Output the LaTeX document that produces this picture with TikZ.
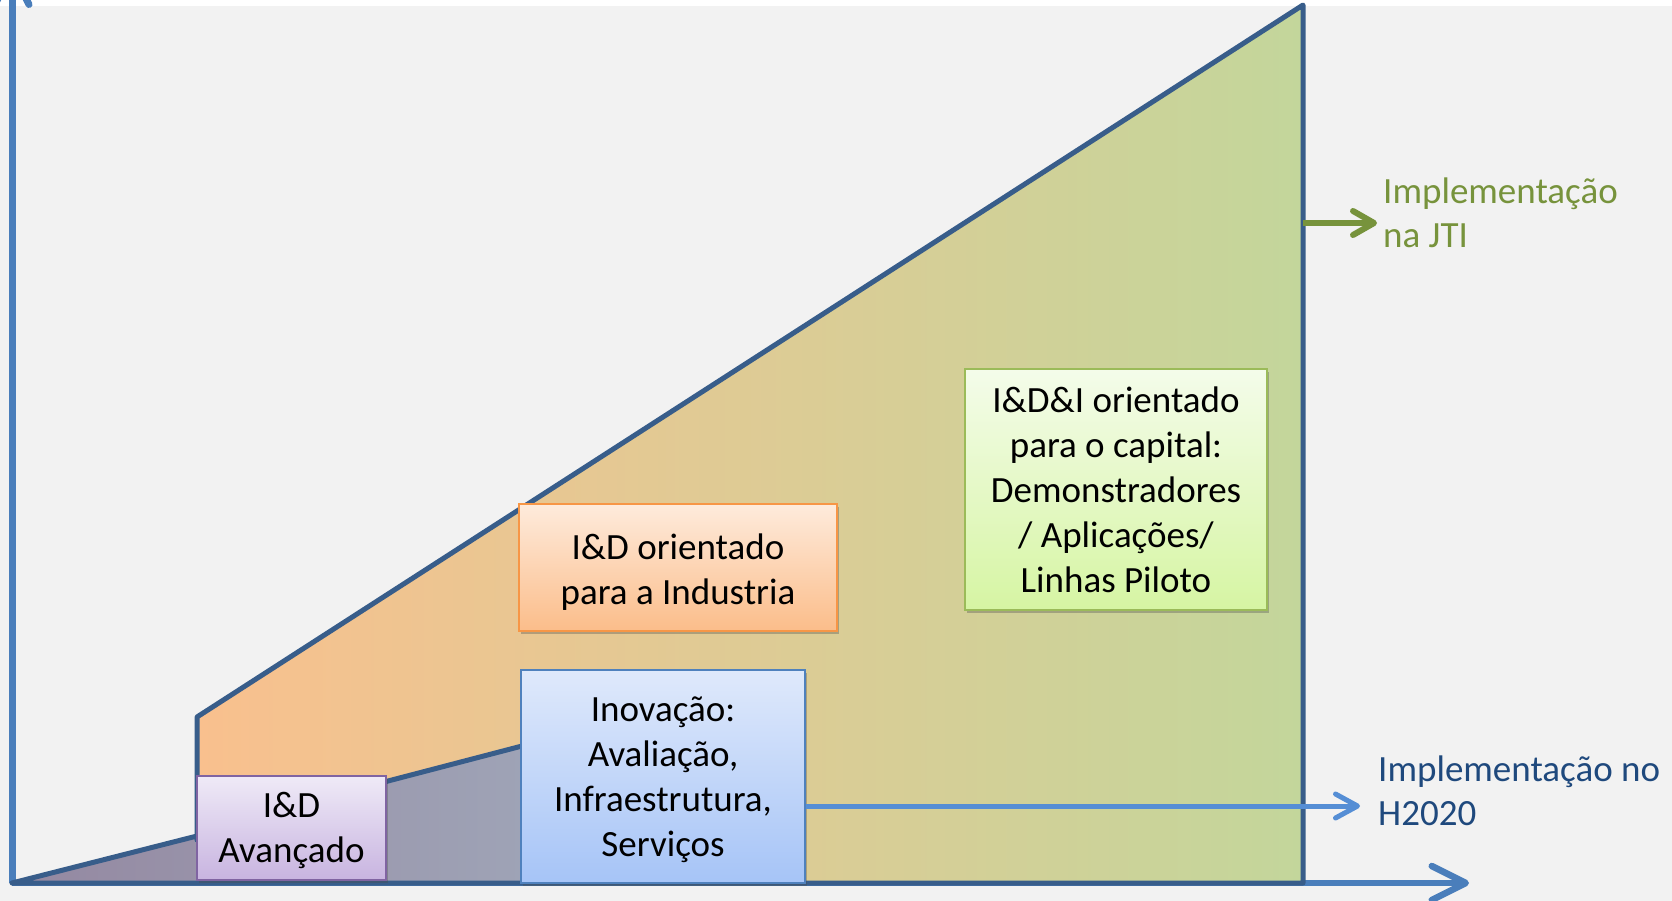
\documentclass[tikz,border=0pt]{standalone}
\usepackage{fontspec}
\setmainfont{Carlito}
\usetikzlibrary{arrows.meta,shadows}
\definecolor{bgc}{HTML}{F2F2F2}
\definecolor{axisc}{HTML}{4A7EBB}
\definecolor{edgec}{HTML}{385D8A}
\definecolor{orangeL}{HTML}{F9C08E}
\definecolor{greenR}{HTML}{C3D69B}
\definecolor{lowL}{HTML}{9488A1}
\definecolor{lowR}{HTML}{A0A7B9}
\definecolor{jtic}{HTML}{77933C}
\definecolor{h2020c}{HTML}{1F497D}
\definecolor{h2020arr}{HTML}{558ED5}
\definecolor{purB}{HTML}{8064A2}
\definecolor{purT}{HTML}{EFEAF7}
\definecolor{purBo}{HTML}{C8B4E0}
\definecolor{orB}{HTML}{F79646}
\definecolor{orT}{HTML}{FEEBDC}
\definecolor{orBo}{HTML}{FBBD8A}
\definecolor{blB}{HTML}{4F81BD}
\definecolor{blT}{HTML}{DFE9FB}
\definecolor{blBo}{HTML}{A6C4F7}
\definecolor{grB}{HTML}{9BBB59}
\definecolor{grT}{HTML}{F4FCEA}
\definecolor{grBo}{HTML}{D6F5A3}
\tikzset{
  box/.style={rectangle, line width=2pt, inner sep=0pt,
    drop shadow={shadow xshift=2pt, shadow yshift=-3pt, opacity=0.35, fill=black!70}},
  boxtext/.style={inner sep=0pt, align=center, font=\fontsize{37}{45}\selectfont},
  outline/.style={draw=edgec, line width=5pt, line join=round, line cap=round},
  lbl/.style={anchor=west, align=left, inner sep=0pt, font=\fontsize{37}{44}\selectfont}
}
\begin{document}
\begin{tikzpicture}[x=1pt,y=-1pt]
\useasboundingbox (0,0) rectangle (1672,901);
\clip (0,0) rectangle (1672,901);
% background
\fill[bgc] (0,0) rectangle (1672,901);
\fill[white] (0,0) rectangle (1672,6);
% key points
\coordinate (O) at (12,883);
\coordinate (Vtop) at (12,-33);
\coordinate (Hend) at (1469,883);
\coordinate (K1) at (197,836);
\coordinate (K2) at (197,717);
\coordinate (TR) at (1303,5);
\coordinate (BR) at (1303,883);
\coordinate (L2) at (388,781);
\coordinate (L3) at (522,746);
% axes
\draw[axisc, line width=7pt, -{Straight Barb[length=34pt,width=34pt,round]}] (O) -- (Vtop);
\draw[axisc, line width=6.5pt, -{Straight Barb[length=34pt,width=34pt,round]}] (O) -- (Hend);
% big area
\fill[left color=orangeL, right color=greenR] (197,883) -- (K2) -- (TR) -- (BR) -- cycle;
% lower area
\fill[left color=lowL, right color=lowR] (O) -- (K1) -- (L2) -- (L3) -- (600,728) -- (600,883) -- cycle;
% outline
\draw[outline] (197,840) -- (K2) -- (TR) -- (BR) -- (O) -- (K1) -- (L2) -- (L3) -- (560,737);
% boxes
\node[box, draw=purB, top color=purT, bottom color=purBo, minimum width=189pt, minimum height=104pt]
  (avz) at (291.5,828) {};
\node[boxtext] (avzt) at ([yshift=-2.7pt]avz.center) {I\&D\\Avançado};
\node[box, draw=orB, top color=orT, bottom color=orBo, minimum width=318pt, minimum height=127pt]
  (ind) at (678,567.5) {};
\node[boxtext] (indt) at ([yshift=-4.2pt]ind.center) {I\&D orientado\\para a Industria};
\node[box, draw=blB, top color=blT, bottom color=blBo, minimum width=284pt, minimum height=213pt]
  (inov) at (663,776.5) {};
\node[boxtext] (inovt) at ([yshift=-3.2pt]inov.center) {Inovação:\\Avaliação,\\Infraestrutura,\\Serviços};
\node[box, draw=grB, top color=grT, bottom color=grBo, minimum width=302pt, minimum height=241pt]
  (cap) at (1116,489.5) {};
\node[boxtext] (capt) at (cap.center) {I\&D\&I orientado\\para o capital:\\Demonstradores\\/ Aplicações/\\Linhas Piloto};
% labels
\node[lbl, text=jtic] (jti) at (1383,213) {Implementação\\na JTI};
\node[lbl, text=h2020c] (h2020) at (1378,791) {Implementação no\\H2020};
% arrows
\coordinate (ga) at (1303,223);
\coordinate (gb) at (1377,223);
\draw[jtic, line width=6pt, -{Straight Barb[length=21pt,width=24pt,round]}] (ga) -- (gb);
\coordinate (bb) at (1360,806);
\draw[h2020arr, line width=5pt, -{Straight Barb[length=22pt,width=24pt,round]}] (inov.east |- bb) -- (bb);
\end{tikzpicture}
\end{document}
